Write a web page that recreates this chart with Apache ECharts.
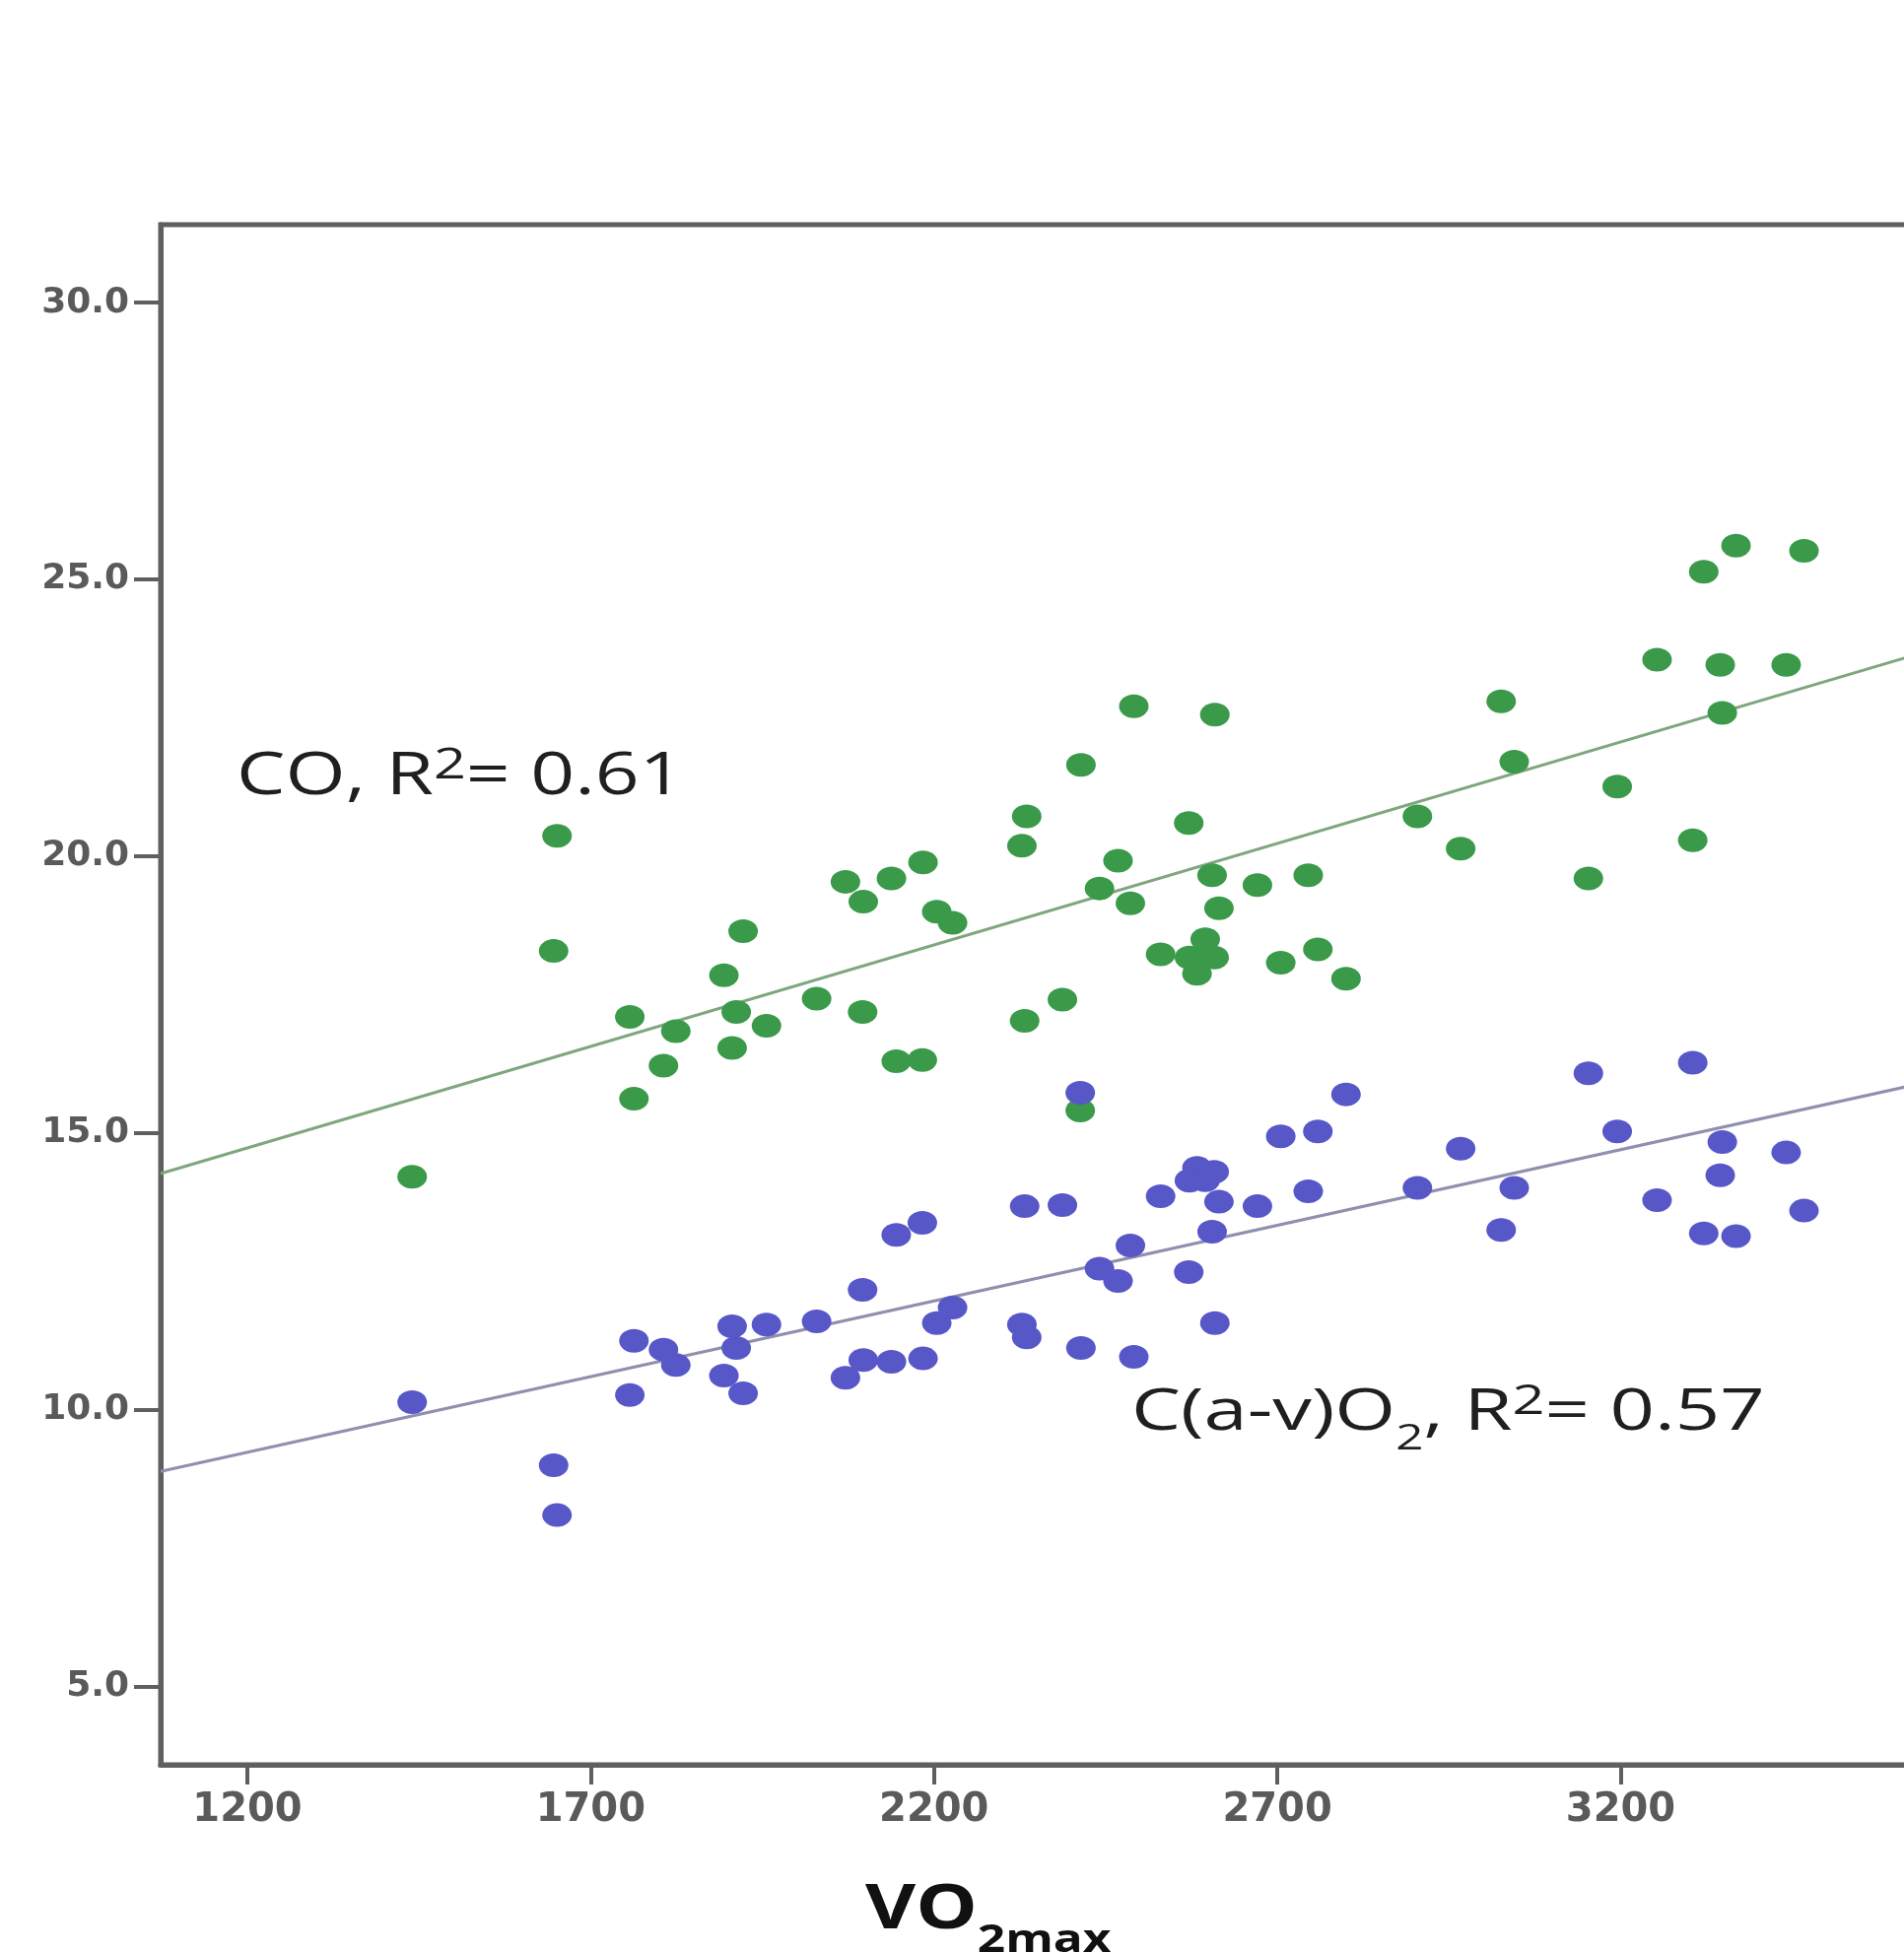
<!DOCTYPE html>
<html>
<head>
<meta charset="utf-8">
<script src="https://cdn.jsdelivr.net/npm/echarts@6/dist/echarts.min.js"></script>
<style>
html,body{margin:0;padding:0;background:#ffffff;overflow:hidden}
#chart{width:1932px;height:1981px}
</style>
</head>
<body>
<div id="chart"></div>
<script>
// ---- data ----
const vo2max = [1440,1646,1651,1757,1763,1806,1824,1894,1922,1912,1906,1956,2029,2071,2097,2096,2138,2145,2184,2183,2204,2227,2335,2328,2332,2387,2413,2414,2468,2441,2486,2491,2530,2571,2572,2583,2595,2608,2605,2609,2615,2671,2705,2745,2759,2800,2904,2967,3026,3045,3153,3195,3253,3305,3321,3345,3348,3368,3441,3467];
const coValues = [14.21,18.29,20.37,17.10,15.62,16.22,16.84,17.85,18.65,17.19,16.54,16.94,17.43,19.54,19.18,17.19,19.60,16.30,19.89,16.32,19.00,18.80,20.72,20.19,17.03,17.41,15.41,21.65,19.92,19.42,19.15,22.71,18.23,20.60,18.17,17.88,18.50,18.17,19.66,22.56,19.06,19.48,18.08,19.66,18.32,17.79,20.72,20.14,22.80,21.71,19.60,21.26,23.55,20.29,25.14,23.46,22.59,25.61,23.46,25.52];
const avO2Values = [10.14,9.00,8.10,10.27,11.25,11.09,10.81,10.62,10.30,11.12,11.51,11.54,11.60,10.58,10.90,12.17,10.87,13.16,10.93,13.38,11.57,11.85,11.31,11.54,13.68,13.70,15.73,11.12,12.33,12.55,12.97,10.96,13.86,12.49,14.14,14.37,14.15,14.30,13.22,11.57,13.76,13.68,14.94,13.95,15.03,15.70,14.01,14.72,13.25,14.01,16.08,15.03,13.79,16.27,13.19,14.24,14.84,13.14,14.65,13.60];
// fitted lines (end points)
const fitX = [1073.7, 3613];
const coFit = [14.27, 23.58];
const avFit = [8.89, 15.83];
// axis ticks
const xTicks = [1200, 1700, 2200, 2700, 3200];
const yTicks = [5, 10, 15, 20, 25, 30];
const xRange = [1073.7, 3655.7];
const yRange = [3.59, 31.41];

const coPoints = vo2max.map((v, i) => [v, coValues[i]]);
const avPoints = vo2max.map((v, i) => [v, avO2Values[i]]);
const coLine = fitX.map((v, i) => [v, coFit[i]]);
const avLine = fitX.map((v, i) => [v, avFit[i]]);

const chart = echarts.init(document.getElementById('chart'), null, {renderer: 'canvas'});
const axisColor = '#5f5f5f';
const labelBase = {fontFamily: 'DejaVu Sans', fontWeight: 'bold', color: '#5a5a5a'};
const textFont = 'Open Sans';
const ink = '#1f1f1f';

chart.setOption({
  backgroundColor: '#ffffff',
  animation: false,
  grid: {
    left: 163, top: 228, right: -30, bottom: 190,
    show: true, borderColor: axisColor, borderWidth: 5, backgroundColor: '#ffffff',
    outerBoundsMode: 'none', containLabel: false
  },
  xAxis: {
    type: 'value', min: xRange[0], max: xRange[1],
    splitLine: {show: false},
    axisLine: {show: true, lineStyle: {color: axisColor, width: 5}},
    axisTick: {show: true, customValues: xTicks, length: 20, lineStyle: {color: axisColor, width: 4}},
    axisLabel: Object.assign({show: true, customValues: xTicks, margin: 27, fontSize: 40,
      formatter: v => String(Math.round(v))}, labelBase)
  },
  yAxis: {
    type: 'value', min: yRange[0], max: yRange[1],
    splitLine: {show: false},
    axisLine: {show: true, lineStyle: {color: axisColor, width: 5}},
    axisTick: {show: true, customValues: yTicks, length: 27, lineStyle: {color: axisColor, width: 4}},
    axisLabel: Object.assign({show: true, customValues: yTicks, margin: 32, fontSize: 36,
      formatter: v => Number(v).toFixed(1)}, labelBase)
  },
  series: [
    {type: 'line', data: coLine, symbol: 'none', silent: true, z: 1,
     lineStyle: {color: '#7fa67f', width: 3}},
    {type: 'line', data: avLine, symbol: 'none', silent: true, z: 1,
     lineStyle: {color: '#8f8fae', width: 3}},
    {type: 'scatter', name: 'CO', data: coPoints, symbol: 'circle', symbolSize: [30, 24], z: 3,
     itemStyle: {color: '#3a9a4a', opacity: 1}},
    {type: 'scatter', name: 'C(a-v)O2', data: avPoints, symbol: 'circle', symbolSize: [30, 24], z: 4,
     itemStyle: {color: '#5757c8', opacity: 1}}
  ],
  graphic: [
    {type: 'text', x: 240, y: 789, scaleX: 1.31, z: 10,
     style: {text: 'CO, R{sup|2}= 0.61', fontFamily: textFont, fontSize: 60, fill: ink,
       lineHeight: 72, verticalAlign: 'middle', align: 'left',
       rich: {sup: {fontFamily: textFont, fontSize: 44, height: 48, verticalAlign: 'top', fill: ink}}}},
    {type: 'text', x: 1148, y: 1434, scaleX: 1.37, z: 10,
     style: {text: 'C(a-v)O{sub|2}, R{sup|2}= 0.57', fontFamily: textFont, fontSize: 58, fill: ink,
       lineHeight: 90, verticalAlign: 'middle', align: 'left',
       rich: {
         sup: {fontFamily: textFont, fontSize: 42, height: 68, verticalAlign: 'top', fill: ink},
         sub: {fontFamily: textFont, fontSize: 36, verticalAlign: 'bottom', fill: ink}
       }}},
    {type: 'text', x: 878, y: 1939, scaleX: 1.27, z: 10,
     style: {text: 'VO{sub|2max}', fontFamily: textFont, fontWeight: 'bold', fontSize: 62, fill: '#111111',
       lineHeight: 100, verticalAlign: 'middle', align: 'left',
       rich: {sub: {fontFamily: textFont, fontWeight: 'bold', fontSize: 39, verticalAlign: 'bottom', fill: '#111111'}}}}
  ]
});
</script>
</body>
</html>
